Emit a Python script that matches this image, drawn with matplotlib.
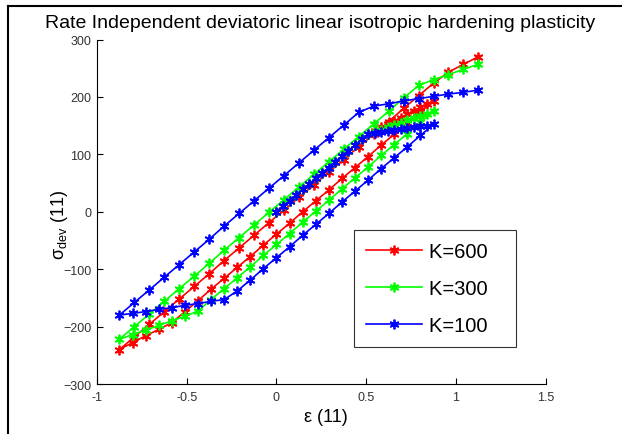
import matplotlib
matplotlib.use('Agg')
import matplotlib.pyplot as plt
from matplotlib.lines import Line2D

plt.rcParams['font.family'] = ['Liberation Sans', 'DejaVu Sans']
plt.rcParams['mathtext.fontset'] = 'custom'
plt.rcParams['mathtext.rm'] = 'Liberation Sans'

# strain path: load 0 -> 0.875, unload to -0.875, reload to 1.125
strain_load = [0, 0.036, 0.073, 0.109, 0.146, 0.182, 0.219, 0.255, 0.292, 0.328, 0.365, 0.401, 0.438,
               0.474, 0.510, 0.547, 0.583, 0.620, 0.656, 0.693, 0.729, 0.766, 0.802, 0.839, 0.875]
strain_unload = [0.802, 0.729, 0.656, 0.583, 0.510, 0.438, 0.365, 0.292, 0.219, 0.146, 0.073, 0.0,
                 -0.073, -0.146, -0.219, -0.292, -0.365, -0.438, -0.510, -0.583, -0.656, -0.729, -0.802, -0.875]
strain_reload = [-0.792, -0.708, -0.625, -0.542, -0.458, -0.375, -0.292, -0.208, -0.125, -0.042, 0.042, 0.125,
                 0.208, 0.292, 0.375, 0.458, 0.542, 0.625, 0.708, 0.792, 0.875, 0.958, 1.042, 1.125]
strain = strain_load + strain_unload + strain_reload

elastic_start = [0, 10, 19, 29, 39, 48, 58, 68, 77, 87, 97, 106, 116, 126, 135]

stress_600 = elastic_start + [141, 147, 153, 158, 164, 170, 176, 182, 188, 193] + \
    [174, 154, 135, 116, 96, 77, 58, 38, 19, 0, -20, -39, -58, -78, -97, -116, -135, -155, -174, -193,
     -205, -216, -228, -240] + \
    [-218, -196, -174, -152, -130, -108, -85, -63, -41, -19, 3, 25, 47, 69, 91, 113, 135, 157, 180, 202,
     224, 243, 257, 270]
stress_300 = elastic_start + [139, 143, 147, 151, 155, 159, 163, 167, 171, 175] + \
    [156, 136, 117, 98, 78, 59, 40, 20, 1, -18, -38, -57, -76, -96, -115, -134, -153, -173, -182, -190,
     -198, -206, -214, -222] + \
    [-200, -178, -156, -134, -112, -90, -67, -45, -23, -1, 21, 43, 65, 87, 109, 131, 153, 175, 198, 220,
     230, 239, 248, 257]
stress_100 = elastic_start + [137, 139, 140, 142, 144, 145, 147, 149, 150, 152] + \
    [133, 113, 94, 75, 55, 36, 17, -3, -22, -41, -61, -80, -99, -119, -138, -153, -156, -160, -163, -167,
     -170, -174, -177, -180] + \
    [-158, -136, -114, -92, -70, -48, -25, -3, 19, 41, 63, 85, 107, 129, 151, 173, 184, 188, 193, 197,
     201, 205, 208, 212]

labels = ['K=600', 'K=300', 'K=100']
colors = ['#ff0000', '#00ff00', '#0000ff']
series = [stress_600, stress_300, stress_100]

fig = plt.figure(figsize=(6.22, 4.35), dpi=100)
ax = fig.add_axes([97 / 622, 1 - 385 / 435, (545.7 - 97) / 622, (385 - 40.5) / 435])

for lab, col, s in zip(labels, colors, series):
    ax.plot(strain, s, '-', color=col, marker=(6, 2, 0), ms=7, mew=1.3, lw=1.2, label=lab + '   ')

ax.set_xlim(-1, 1.5)
ax.set_ylim(-300, 300)
ax.set_xticks([-1, -0.5, 0, 0.5, 1, 1.5])
ax.set_xticklabels(['-1', '-0.5', '0', '0.5', '1', '1.5'])
ax.set_yticks([-300, -200, -100, 0, 100, 200, 300])
ax.tick_params(direction='in', length=4, labelsize=9, labelcolor='#333333')
ax.tick_params(axis='x', pad=5)
ax.tick_params(axis='y', pad=4)
ax.spines['top'].set_visible(False)
ax.spines['right'].set_visible(False)

fig.text(320 / 622, 1 - 23 / 435, 'Rate Independent deviatoric linear isotropic hardening plasticity',
         ha='center', va='center', fontsize=14)
fig.text(326 / 622, 1 - 418 / 435, 'ε (11)', ha='center', va='center', fontsize=13)
fig.text(60 / 622, 210 / 435, r'$\mathregular{\sigma_{dev}}$ (11)', ha='center', va='center',
         rotation=90, fontsize=13)

leg = ax.legend(loc='upper left', bbox_to_anchor=(354 / 622, 1 - 231 / 435), bbox_transform=fig.transFigure,
                borderaxespad=0, fontsize=14.5, fancybox=False, edgecolor='#333333', framealpha=1,
                handlelength=2.8, labelspacing=0.9, borderpad=0.58, handletextpad=0.35, numpoints=1)
leg.get_frame().set_linewidth(0.8)

# screenshot border lines
fig.add_artist(Line2D([8 / 622, 8 / 622], [0, 1 - 7 / 435], transform=fig.transFigure, color='k', lw=1.5))
fig.add_artist(Line2D([8 / 622, 1], [1 - 7 / 435, 1 - 7 / 435], transform=fig.transFigure, color='k', lw=1.5))

fig.savefig('out.png', dpi=100)
